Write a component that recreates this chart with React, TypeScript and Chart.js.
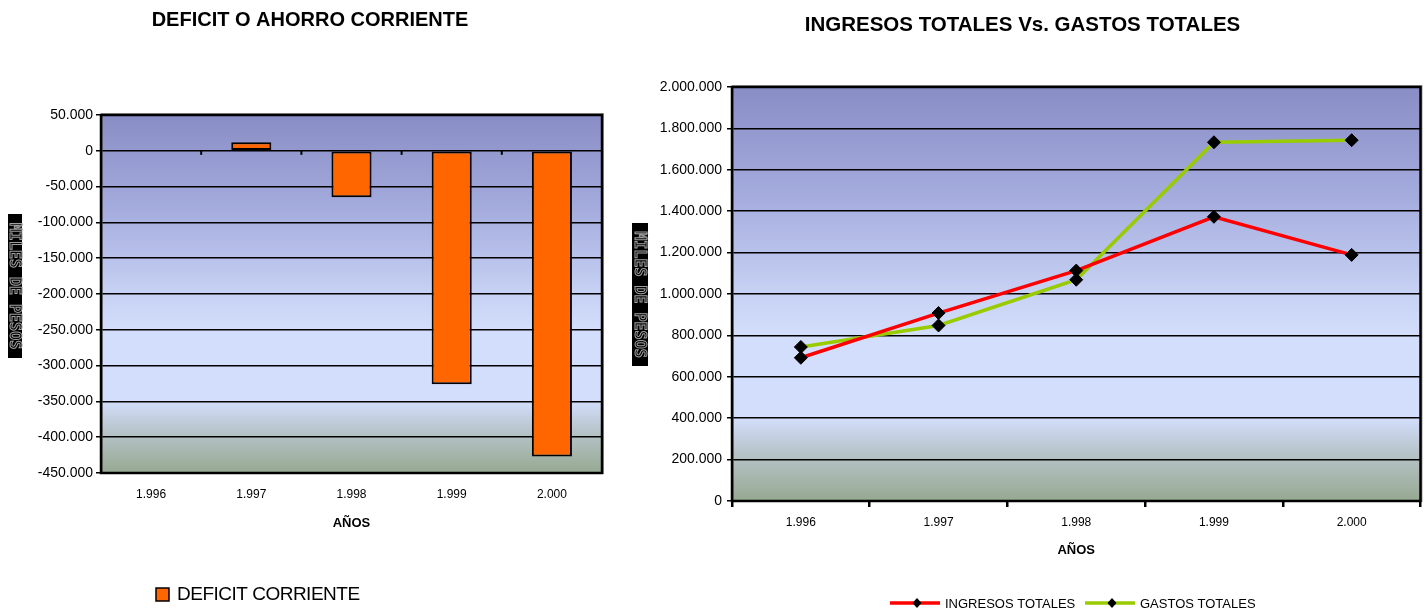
import React, { useEffect, useRef } from 'react';
import { Chart, registerables } from 'chart.js';

Chart.register(...registerables);

// ---------- data ----------
const years = ['1.996', '1.997', '1.998', '1.999', '2.000'];
const deficitCorriente = [0, 12000, -65000, -326000, -427000];
const ingresosTotales = [692000, 908000, 1113000, 1373000, 1189000];
const gastosTotales = [744000, 848000, 1069000, 1733000, 1743000];

const deficitTitle = 'DEFICIT O AHORRO CORRIENTE';
const ingresosTitle = 'INGRESOS TOTALES Vs. GASTOS TOTALES';
const xAxisTitle = 'AÑOS';
const yAxisTitle = 'MILES DE PESOS';
const deficitLabel = 'DEFICIT CORRIENTE';
const ingresosLabel = 'INGRESOS TOTALES';
const gastosLabel = 'GASTOS TOTALES';

const deficitMin = -450000;
const deficitMax = 50000;
const deficitStep = 50000;
const totalMin = 0;
const totalMax = 2000000;
const totalStep = 200000;

// ---------- helpers ----------
const FONT = 'Arial, "Liberation Sans", Helvetica, sans-serif';

function fmt(v: number): string {
  const s = Math.abs(Math.round(v)).toString().replace(/\B(?=(\d{3})+(?!\d))/g, '.');
  return (v < 0 ? '-' : '') + s;
}

const bgPlugin = {
  id: 'plotBg',
  beforeDraw(chart: any) {
    const { ctx, chartArea } = chart;
    if (!chartArea) return;
    const { left, top, right, bottom } = chartArea;
    const g = ctx.createLinearGradient(0, top, 0, bottom);
    g.addColorStop(0, '#898dc5');
    g.addColorStop(0.25, '#a3aadc');
    g.addColorStop(0.5, '#c7d2f4');
    g.addColorStop(0.6, '#d3defc');
    g.addColorStop(0.8, '#d3defc');
    g.addColorStop(0.88, '#b8c5cc');
    g.addColorStop(1, '#96a991');
    ctx.save();
    ctx.fillStyle = g;
    ctx.fillRect(left, top, right - left, bottom - top);
    ctx.restore();
  },
};

const borderPlugin = {
  id: 'plotBorder',
  afterDraw(chart: any) {
    const { ctx, chartArea } = chart;
    const { left, top, right, bottom } = chartArea;
    ctx.save();
    ctx.strokeStyle = 'rgba(90,90,90,0.6)';
    ctx.lineWidth = 2;
    ctx.strokeRect(left + 1, top - 1, right - left, bottom - top + 1);
    ctx.strokeStyle = '#000';
    ctx.lineWidth = 2.5;
    ctx.strokeRect(left, top, right - left, bottom - top);
    ctx.restore();
  },
};

const zeroTicksPlugin = {
  id: 'zeroTicks',
  afterDraw(chart: any) {
    const { ctx } = chart;
    const xs = chart.scales.x;
    const ys = chart.scales.y;
    const y0 = ys.getPixelForValue(0);
    const n = chart.data.labels.length;
    const w = (xs.right - xs.left) / n;
    ctx.save();
    ctx.strokeStyle = '#000';
    ctx.lineWidth = 2;
    for (let i = 0; i <= n; i++) {
      const bx = xs.left + i * w;
      ctx.beginPath();
      ctx.moveTo(bx, y0);
      ctx.lineTo(bx, y0 + 4);
      ctx.stroke();
    }
    ctx.restore();
  },
};

function yTitlePlugin(x: number, w: number, yTop: number, yBot: number) {
  return {
    id: 'yTitleBox',
    afterDraw(chart: any) {
      const { ctx } = chart;
      ctx.save();
      ctx.fillStyle = '#000';
      ctx.fillRect(x, yTop, w, yBot - yTop);
      ctx.translate(x + w / 2, (yTop + yBot) / 2);
      ctx.rotate(Math.PI / 2);
      ctx.font = 'bold 15px "DejaVu Sans Mono", monospace';
      ctx.textAlign = 'center';
      ctx.textBaseline = 'middle';
      ctx.strokeStyle = '#a0a0a0';
      ctx.lineWidth = 1;
      ctx.strokeText(yAxisTitle, 0, 1);
      ctx.restore();
    },
  };
}

const barLegendPlugin = {
  id: 'barLegend',
  afterDraw(chart: any) {
    const { ctx } = chart;
    const ds = chart.data.datasets[0];
    ctx.save();
    ctx.fillStyle = ds.backgroundColor;
    ctx.fillRect(156, 588, 13, 13);
    ctx.strokeStyle = '#000';
    ctx.lineWidth = 1.5;
    ctx.strokeRect(156, 588, 13, 13);
    ctx.fillStyle = '#000';
    ctx.font = '19px ' + FONT;
    (ctx as any).letterSpacing = '-0.5px';
    ctx.textAlign = 'left';
    ctx.textBaseline = 'middle';
    ctx.fillText(ds.label, 177, 595);
    ctx.restore();
  },
};

const lineLegendPlugin = {
  id: 'lineLegend',
  afterDraw(chart: any) {
    const { ctx } = chart;
    const starts = [270, 465];
    const y = 603;
    ctx.save();
    chart.data.datasets.forEach((ds: any, i: number) => {
      const x0 = starts[i];
      ctx.strokeStyle = ds.borderColor;
      ctx.lineWidth = 3.5;
      ctx.beginPath();
      ctx.moveTo(x0, y);
      ctx.lineTo(x0 + 50, y);
      ctx.stroke();
      const cx = x0 + 27;
      ctx.fillStyle = '#000';
      ctx.beginPath();
      ctx.moveTo(cx, y - 5);
      ctx.lineTo(cx + 4.5, y);
      ctx.lineTo(cx, y + 5);
      ctx.lineTo(cx - 4.5, y);
      ctx.closePath();
      ctx.fill();
      ctx.font = '13px ' + FONT;
      (ctx as any).letterSpacing = '0px';
      ctx.textAlign = 'left';
      ctx.textBaseline = 'middle';
      ctx.fillText(ds.label, x0 + 55, y + 1);
    });
    ctx.restore();
  },
};

export default function App() {
  const leftRef = useRef<HTMLCanvasElement | null>(null);
  const rightRef = useRef<HTMLCanvasElement | null>(null);

  useEffect(() => {
    Chart.defaults.font.family = FONT;
    Chart.defaults.color = '#000';

    const left = new Chart(leftRef.current as HTMLCanvasElement, {
      type: 'bar',
      data: {
        labels: years,
        datasets: [
          {
            label: deficitLabel,
            data: deficitCorriente,
            backgroundColor: '#ff6600',
            borderColor: '#000',
            borderWidth: 2,
            borderSkipped: false,
            barPercentage: 0.4,
            categoryPercentage: 1,
          } as any,
        ],
      },
      options: {
        responsive: false,
        animation: false,
        layout: { padding: { left: 18, right: 18, top: 0, bottom: 75 } },
        plugins: {
          legend: { display: false },
          tooltip: { enabled: false },
          title: {
            display: true,
            text: deficitTitle,
            color: '#000',
            font: { size: 20, weight: 'bold', family: FONT },
            padding: { top: 8, bottom: 83 },
          },
        },
        scales: {
          x: {
            grid: { display: false, drawTicks: false },
            border: { display: false },
            ticks: { color: '#000', font: { size: 12 }, padding: 14.8 },
            title: {
              display: true,
              text: xAxisTitle,
              color: '#000',
              font: { size: 13, weight: 'bold' },
              padding: { top: 0, bottom: 2.2 },
            },
            afterFit: (s: any) => {
              s.height = 60;
            },
          },
          y: {
            min: deficitMin,
            max: deficitMax,
            ticks: {
              stepSize: deficitStep,
              color: '#000',
              font: { size: 14 },
              padding: 3,
              callback: (v: any) => fmt(Number(v)),
            },
            grid: { color: '#000', lineWidth: 1.5, tickLength: 5 },
            border: { display: false },
            afterFit: (s: any) => {
              s.width = 83;
            },
          },
        },
      } as any,
      plugins: [bgPlugin, borderPlugin, zeroTicksPlugin, yTitlePlugin(8, 14, 214, 358), barLegendPlugin],
    });

    const right = new Chart(rightRef.current as HTMLCanvasElement, {
      type: 'line',
      data: {
        labels: years,
        datasets: [
          {
            label: ingresosLabel,
            data: ingresosTotales,
            borderColor: '#ff0000',
            borderWidth: 3.5,
            tension: 0,
            fill: false,
            pointStyle: 'rectRot',
            pointRadius: 6.5,
            pointBackgroundColor: '#000',
            pointBorderColor: '#000',
            pointBorderWidth: 1,
          } as any,
          {
            label: gastosLabel,
            data: gastosTotales,
            borderColor: '#99cc00',
            borderWidth: 3.5,
            tension: 0,
            fill: false,
            pointStyle: 'rectRot',
            pointRadius: 6.5,
            pointBackgroundColor: '#000',
            pointBorderColor: '#000',
            pointBorderWidth: 1,
          } as any,
        ],
      },
      options: {
        responsive: false,
        animation: false,
        layout: { padding: { left: 4, right: 7, top: 0, bottom: 47 } },
        plugins: {
          legend: { display: false },
          tooltip: { enabled: false },
          title: {
            display: true,
            text: ingresosTitle,
            color: '#000',
            font: { size: 20.5, weight: 'bold', family: FONT },
            padding: { top: 12.7, bottom: 49.7 },
          },
        },
        scales: {
          x: {
            offset: true,
            grid: {
              display: true,
              offset: true,
              drawOnChartArea: false,
              drawTicks: true,
              tickLength: 6,
              color: '#000',
              lineWidth: 2.5,
            },
            border: { display: false },
            ticks: { color: '#000', font: { size: 12 }, padding: 8.8 },
            title: {
              display: true,
              text: xAxisTitle,
              color: '#000',
              font: { size: 13, weight: 'bold' },
              padding: { top: 0, bottom: 3.2 },
            },
            afterFit: (s: any) => {
              s.height = 60;
            },
          },
          y: {
            min: totalMin,
            max: totalMax,
            ticks: {
              stepSize: totalStep,
              color: '#000',
              font: { size: 14 },
              padding: 5,
              callback: (v: any) => fmt(Number(v)),
            },
            grid: { color: '#000', lineWidth: 1.5, tickLength: 5 },
            border: { display: false },
            afterFit: (s: any) => {
              s.width = 108;
            },
          },
        },
      } as any,
      plugins: [bgPlugin, borderPlugin, yTitlePlugin(12, 16, 223, 366), lineLegendPlugin],
    });

    return () => {
      left.destroy();
      right.destroy();
    };
  }, []);

  return (
    <div style={{ position: 'fixed', left: 0, top: 0, width: 1428, height: 608, background: '#fff', overflow: 'hidden' }}>
      <canvas ref={leftRef} width={620} height={608} style={{ position: 'absolute', left: 0, top: 0 }} />
      <canvas ref={rightRef} width={808} height={608} style={{ position: 'absolute', left: 620, top: 0 }} />
    </div>
  );
}
